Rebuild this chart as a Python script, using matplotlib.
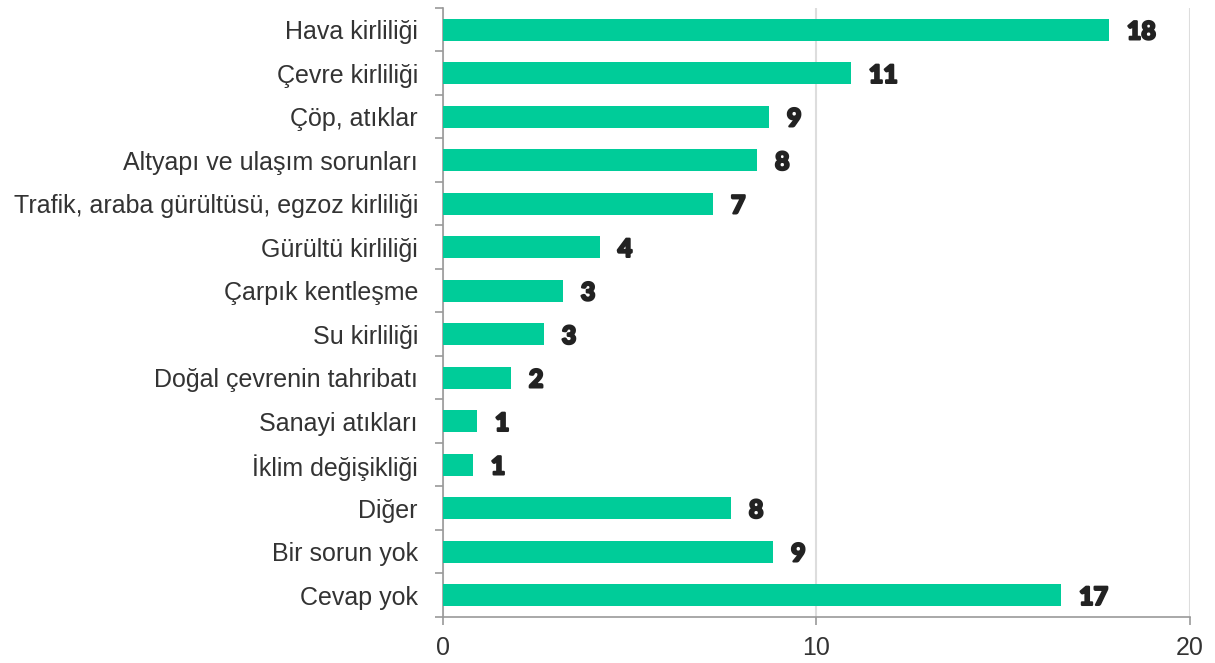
import numpy as np
import matplotlib.pyplot as plt
import matplotlib.patheffects as pe
from matplotlib.ticker import FixedLocator

categories = ["Hava kirliliği", "Çevre kirliliği", "Çöp, atıklar", "Altyapı ve ulaşım sorunları",
              "Trafik, araba gürültüsü, egzoz kirliliği", "Gürültü kirliliği", "Çarpık kentleşme",
              "Su kirliliği", "Doğal çevrenin tahribatı", "Sanayi atıkları", "İklim değişikliği",
              "Diğer", "Bir sorun yok", "Cevap yok"]
values = [17.83, 10.92, 8.73, 8.41, 7.23, 4.20, 3.21, 2.70, 1.82, 0.91, 0.80, 7.71, 8.84, 16.55]
labels = ["18", "11", "9", "8", "7", "4", "3", "3", "2", "1", "1", "8", "9", "17"]

fig = plt.figure(figsize=(12.15, 6.63), dpi=100)
ax = fig.add_axes([0.3646, 0.0694, 0.6148, 0.9186])

y = np.arange(len(categories))
ax.barh(y, values, height=0.5, color="#00CC99", zorder=3)
for yi, v, lab in zip(y, values, labels):
    ax.text(v + 0.48, yi + 0.05, lab, va="center", ha="left", fontsize=18,
            family="Lato", fontweight="black", color="#222222",
            path_effects=[pe.withStroke(linewidth=1.6, foreground="#222222")])

ax.set_xlim(0, 20)
ax.set_ylim(len(categories) - 0.5, -0.5)
ax.set_xticks([0, 10, 20])
ax.set_yticks(y)
ax.set_yticklabels(categories, family="Liberation Sans", fontsize=18, color="#333333")
ax.yaxis.set_minor_locator(FixedLocator(np.arange(-0.5, len(categories), 1)))
ax.tick_params(axis="y", which="major", length=0, pad=18)
ax.tick_params(axis="y", which="minor", length=6, color="#999999", width=1.2)
ax.tick_params(axis="x", length=6, color="#999999", width=1.2, labelsize=18, labelcolor="#333333", pad=8)
for t in ax.get_xticklabels():
    t.set_family("Liberation Sans")

ax.grid(axis="x", color="#dddddd", linewidth=1.5, zorder=0)
for s in ["top", "right"]:
    ax.spines[s].set_visible(False)
for s in ["left", "bottom"]:
    ax.spines[s].set_color("#999999")
    ax.spines[s].set_linewidth(1.2)

fig.savefig("out.png", dpi=100)
